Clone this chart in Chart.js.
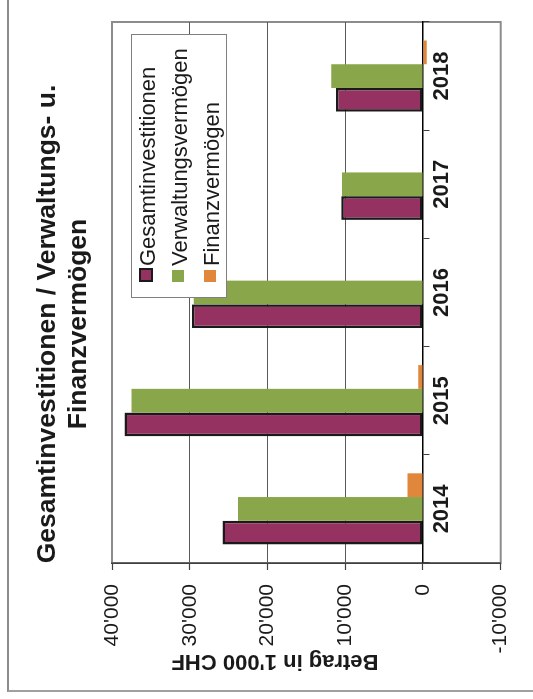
<!DOCTYPE html>
<html><head><meta charset="utf-8">
<script src="https://cdn.jsdelivr.net/npm/chart.js@4/dist/chart.umd.min.js"></script>
<style>
html,body{margin:0;padding:0;background:#fff;overflow:hidden;}
#page{position:relative;width:533px;height:699px;overflow:hidden;}
#frame{position:absolute;left:7px;top:-4px;width:540px;height:694px;border-left:2px solid #8c8c8c;border-bottom:2px solid #a0a0a0;}
#rot{position:absolute;left:0;top:0;width:699px;height:533px;transform-origin:0 0;transform:translate(0,699px) rotate(-90deg);}
#legend{position:absolute;left:401px;top:131px;width:264px;height:96px;border:1px solid #808080;background:#fff;box-sizing:border-box;font-family:'Liberation Sans',Arial,sans-serif;font-size:22px;color:#1a1a1a;}
.sw{position:absolute;box-sizing:border-box;}
.lt{position:absolute;left:31px;line-height:22px;white-space:nowrap;}
</style></head>
<body><div id="page"><div id="frame"></div>
<div id="rot"><canvas id="c" width="699" height="533"></canvas><div id="legend"></div></div></div>
<script>
const categories = ['2014', '2015', '2016', '2017', '2018'];
const gesamtinvestitionen = [25800, 38400, 29700, 10500, 11200];
const verwaltungsvermoegen = [23800, 37500, 29500, 10400, 11800];
const finanzvermoegen = [2000, 600, 0, 0, -500];
const seriesNames = ['Gesamtinvestitionen', 'Verwaltungsvermögen', 'Finanzvermögen'];
const seriesColors = ['#953262', '#8aa64a', '#e0873b'];
const valueTicks = [-10000, 0, 10000, 20000, 30000, 40000];
const titleLines = ['Gesamtinvestitionen / Verwaltungs- u.', 'Finanzvermögen'];
const axisTitle = "Betrag in 1'000 CHF";

const FONT = "'Liberation Sans', Arial, sans-serif";
function fmt(v){
  const s = Math.abs(v).toString().replace(/\B(?=(\d{3})+(?!\d))/g, "'");
  return (v < 0 ? '-' : '') + s;
}

const framePlugin = {
  id: 'frameRect',
  afterLayout(chart){
    // centre the title over the same span as in the reference
    if (chart.titleBlock) { chart.titleBlock.left = 73; chart.titleBlock.right = 677; }
  },
  beforeDraw(chart){
    const a = chart.chartArea, ctx = chart.ctx;
    ctx.save();
    ctx.strokeStyle = '#8c8c8c';
    ctx.lineWidth = 2;
    ctx.strokeRect(a.left, a.top, a.right - a.left, a.bottom - a.top);
    ctx.restore();
  }
};
const axisTitlePlugin = {
  id: 'axisTitle',
  afterDraw(chart){
    const ctx = chart.ctx;
    ctx.save();
    ctx.translate(44, 275);
    ctx.rotate(-Math.PI / 2);
    ctx.font = 'bold 22px ' + FONT;
    ctx.fillStyle = '#1a1a1a';
    ctx.textAlign = 'center';
    ctx.textBaseline = 'alphabetic';
    ctx.fillText(axisTitle, 0, 0);
    ctx.restore();
  }
};

const chart = new Chart(document.getElementById('c'), {
  type: 'bar',
  data: {
    labels: categories,
    datasets: [
      {label: seriesNames[0], data: gesamtinvestitionen, backgroundColor: seriesColors[0], borderColor: '#1a1a1a', borderWidth: 2.5, borderSkipped: false},
      {label: seriesNames[1], data: verwaltungsvermoegen, backgroundColor: seriesColors[1], borderWidth: 0},
      {label: seriesNames[2], data: finanzvermoegen, backgroundColor: seriesColors[2], borderWidth: 0}
    ]
  },
  options: {
    responsive: false,
    animation: false,
    devicePixelRatio: 1,
    datasets: {bar: {barPercentage: 1, categoryPercentage: 0.658}},
    layout: {padding: {left: 38, right: 22, top: 22, bottom: 32.3}},
    plugins: {
      legend: {display: false},
      tooltip: {enabled: false},
      title: {
        display: true, text: titleLines, color: '#1a1a1a',
        font: {family: FONT, size: 26.5, weight: 'bold', lineHeight: 1.17},
        padding: {top: 10.3, bottom: 17.7}
      }
    },
    scales: {
      x: {
        position: {y: 0},
        grid: {drawOnChartArea: false, drawTicks: true, tickLength: 6, tickColor: '#404040', offset: true},
        border: {display: true, color: '#000', width: 1.5},
        ticks: {color: '#1a1a1a', font: {family: FONT, size: 22, weight: 'bold'}, padding: 0, maxRotation: 0}
      },
      y: {
        min: -10000, max: 40000,
        afterBuildTicks: s => { s.ticks = valueTicks.map(v => ({value: v})); },
        afterFit: s => { s.width = 98; },
        grid: {
          color: c => (c.tick && [10000, 20000, 30000].includes(c.tick.value)) ? '#5a5a5a' : 'rgba(0,0,0,0)',
          lineWidth: 1, tickLength: 7, tickColor: '#404040', tickWidth: 1.2
        },
        border: {color: '#404040', width: 1.5},
        ticks: {padding: 14, color: '#1a1a1a', font: {family: FONT, size: 21}, callback: v => fmt(v)}
      }
    }
  },
  plugins: [framePlugin, axisTitlePlugin]
});

// legend built from the dataset definitions
const lg = document.getElementById('legend');
chart.data.datasets.forEach((ds, i) => {
  const sw = document.createElement('div');
  sw.className = 'sw';
  const cy = 14 + i * 32;
  if (ds.borderWidth) {
    sw.style.cssText = `left:15px;top:${cy - 7}px;width:14px;height:14px;background:${ds.backgroundColor};border:2px solid ${ds.borderColor};`;
  } else {
    sw.style.cssText = `left:15px;top:${cy - 6}px;width:12px;height:12px;background:${ds.backgroundColor};`;
  }
  lg.appendChild(sw);
  const t = document.createElement('div');
  t.className = 'lt';
  t.style.top = (cy - 11 + 2) + 'px';
  t.textContent = ds.label;
  lg.appendChild(t);
});
</script></body></html>
